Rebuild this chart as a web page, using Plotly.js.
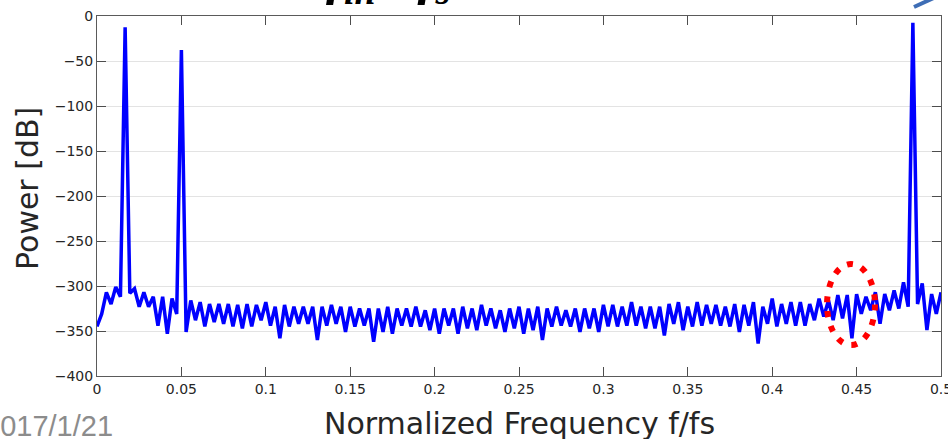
<!DOCTYPE html>
<html>
<head>
<meta charset="utf-8">
<script src="https://cdn.plot.ly/plotly-3.0.1.min.js"></script>
<style>
  html, body { margin: 0; padding: 0; background: #ffffff; }
  #chart { width: 948px; height: 439px; }
</style>
</head>
<body>
<div id="chart"></div>
<script>
// FFT bin spacing (normalized frequency per bin)
const binStep = 1 / 360;

// Power spectrum values [dB], bin by bin
const powerA = [-345,-331,-307,-320,-301,-312,-12.6,-308,-303,-323,-307,-323,-312,-344,-312,-353,-314,-331,-37.8,-351,-316,-338,-318,-345,-320,-340,-320,-342,-320,-345,-321];
const powerB = [-347,-320,-345,-321,-338,-318,-344,-323,-358,-321,-345,-323,-342,-323,-342,-323,-360,-323,-344,-321,-342,-323,-351,-323,-345,-325,-344,-325,-362];
const powerC = [-325,-351,-323,-353,-325,-344,-325,-345,-323,-345,-327,-349,-325,-353,-325,-344,-325,-353,-323,-347,-325,-349,-321,-344,-325,-347,-327,-351,-325,-347,-323];
const powerD = [-353,-325,-349,-323,-360,-325,-345,-323,-344,-327,-345,-325,-351,-325,-347,-325,-351,-321,-345,-321,-345,-323,-344,-318,-344,-323,-347,-323,-347,-323];
const powerE = [-355,-320,-342,-318,-349,-323,-345,-318,-344,-321,-342,-321,-344,-323,-345,-320,-351,-321,-344,-318,-364,-323,-342,-314,-345,-320,-342,-318,-344,-318];
const powerF = [-344,-320,-338,-314,-334,-316,-338,-310,-336,-310,-358,-309,-331,-312,-327,-307,-342,-309,-327,-305,-325,-296,-323,-7.5,-320,-297,-349,-309,-331,-307];

const xTickVals = [0,0.05,0.1,0.15,0.2,0.25,0.3,0.35,0.4,0.45,0.5];
const xTickText = ['0','0.05','0.1','0.15','0.2','0.25','0.3','0.35','0.4','0.45','0.5'];
const yTickVals = [-400,-350,-300,-250,-200,-150,-100,-50,0];
const yTickText = ['\u2212400','\u2212350','\u2212300','\u2212250','\u2212200','\u2212150','\u2212100','\u221250','0'];

const xTitle = 'Normalized Frequency f/fs';
const yTitle = 'Power [dB]';
const dateText = '2017/1/21';
const topTitle = '<b><i>f</i></b><sub><b><i>in</i></b></sub><b><i> / f</i></b><sub><b><i>s</i></b></sub><b><i>  =  1/60</i></b>';

const power = [].concat(powerA, powerB, powerC, powerD, powerE, powerF);
const freq = power.map((_, i) => i * binStep);

const trace = {
  x: freq,
  y: power,
  type: 'scatter',
  mode: 'lines',
  line: { color: '#0000ff', width: 3.5 },
  hoverinfo: 'skip'
};

const tickFont = { family: 'DejaVu Sans, sans-serif', size: 14, color: '#262626' };
const titleFont = { family: 'DejaVu Sans, sans-serif', size: 30, color: '#262626' };
const PL = 97, PT = 16, PW = 844, PH = 360;
const px = v => (v - PL) / PW;       // pixel x -> paper x
const py = v => (PT + PH - v) / PH;  // pixel y -> paper y

const axisCommon = {
  ticks: 'inside',
  ticklen: 9,
  tickwidth: 1,
  tickcolor: '#4d4d4d',
  showline: true,
  linecolor: '#5a5a5a',
  linewidth: 1,
  mirror: 'ticks',
  zeroline: false,
  tickfont: tickFont,
  ticklabeloverflow: 'allow',
  automargin: false
};

const layout = {
  width: 948,
  height: 439,
  margin: { l: 97, r: 7, t: 16, b: 63, pad: 0 },
  paper_bgcolor: '#ffffff',
  plot_bgcolor: '#ffffff',
  showlegend: false,
  xaxis: Object.assign({}, axisCommon, {
    range: [0, 0.5],
    tickvals: xTickVals,
    ticktext: xTickText,
    showgrid: false
  }),
  yaxis: Object.assign({}, axisCommon, {
    range: [-400, 0],
    tickvals: yTickVals,
    ticktext: yTickText,
    showgrid: true,
    gridcolor: '#e3e3e3',
    gridwidth: 1
  }),
  annotations: [
    {
      text: xTitle, xref: 'paper', yref: 'paper',
      x: px(519), y: py(423), xanchor: 'center', yanchor: 'middle',
      showarrow: false,
      font: titleFont
    },
    {
      text: yTitle, xref: 'paper', yref: 'paper', textangle: -90,
      x: px(28), y: py(189), xanchor: 'center', yanchor: 'middle',
      showarrow: false,
      font: titleFont
    },
    {
      text: dateText, xref: 'paper', yref: 'paper',
      x: px(-18), y: py(426), xanchor: 'left', yanchor: 'middle',
      showarrow: false,
      font: { family: 'Liberation Sans, Arial, sans-serif', size: 29, color: '#8c8c8c' }
    },
    {
      text: topTitle,
      xref: 'paper', yref: 'paper',
      x: px(324), y: py(14), xanchor: 'left', yanchor: 'bottom',
      showarrow: false,
      font: { family: 'Liberation Serif, serif', size: 54, color: '#000000' }
    }
  ],
  shapes: [
    {
      type: 'circle', xref: 'paper', yref: 'paper',
      x0: px(827), x1: px(875), y0: py(345), y1: py(264),
      line: { color: '#ff0000', width: 6, dash: '6px,9px' },
      layer: 'above'
    },
    {
      type: 'line', xref: 'paper', yref: 'paper',
      x0: px(914), y0: py(7), x1: px(938), y1: py(-4),
      line: { color: '#3e6db5', width: 4 },
      layer: 'above'
    }
  ]
};

Plotly.newPlot('chart', [trace], layout, { staticPlot: true, displayModeBar: false });
</script>
</body>
</html>
